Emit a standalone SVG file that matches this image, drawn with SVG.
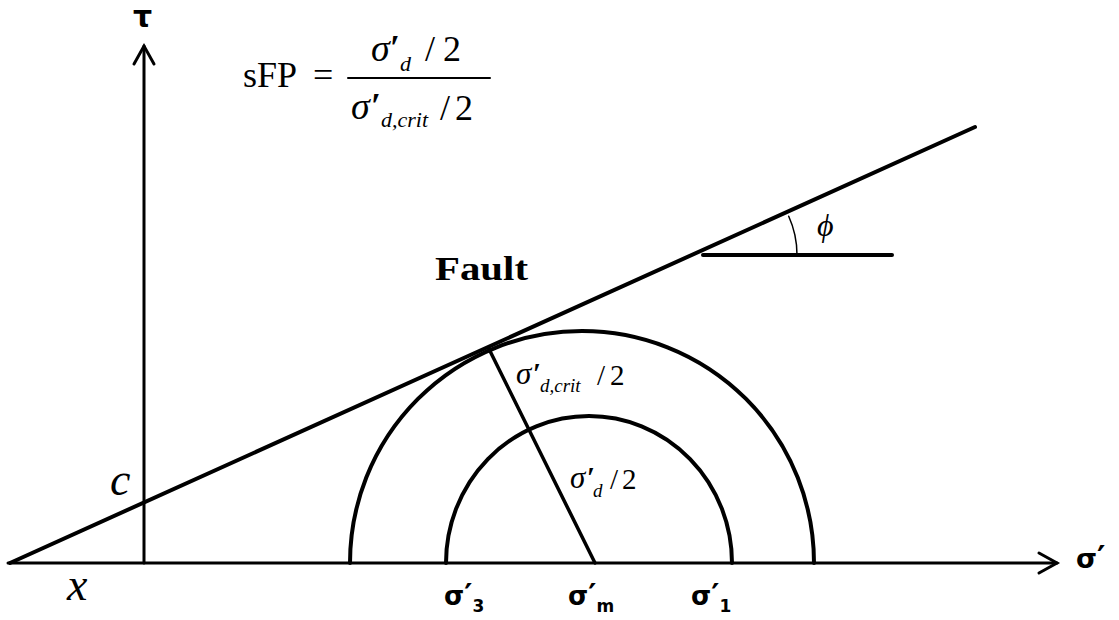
<svg xmlns="http://www.w3.org/2000/svg" width="1119" height="620" viewBox="0 0 1119 620">
<style>
.ln{stroke:#000;fill:none;stroke-linecap:round}
.ax{stroke-width:3}
.thick{stroke-width:4}
.math{font-family:"Liberation Serif","Times New Roman",serif;fill:#000}
.it{font-style:italic}
.lbl{font-family:"DejaVu Sans",Verdana,sans-serif;font-weight:bold;fill:#000}
</style>
<defs>
<marker id="chev" markerUnits="userSpaceOnUse" markerWidth="30" markerHeight="30" refX="0" refY="0" viewBox="-22 -15 30 30" orient="auto" overflow="visible">
<path d="M-18,-10 L0,0 L-18,10" fill="none" stroke="#000" stroke-width="3" stroke-linecap="round" stroke-linejoin="miter"/>
</marker>
</defs>
<rect width="1119" height="620" fill="#fff"/>
<g id="connectors">
<line id="sigma-axis" class="ln ax" x1="8" y1="563" x2="1057" y2="563" marker-end="url(#chev)"/>
<line id="tau-axis" class="ln ax" x1="144" y1="563" x2="144" y2="46" marker-end="url(#chev)"/>
<line id="fault-line" class="ln thick" x1="10" y1="563" x2="975" y2="127"/>
<line id="phi-ref" class="ln thick" x1="703" y1="255" x2="892" y2="255"/>
<path id="phi-arc" class="ln" stroke-width="1.5" d="M788.7,216.3 A94,94 0 0 1 797,255"/>
<line id="radius" class="ln" stroke-width="3.5" x1="595" y1="563" x2="489" y2="349"/>
</g>
<g id="outer-circle">
<path class="ln thick" d="M350,563 A232,232 0 0 1 814,563"/>
</g>
<g id="inner-circle">
<path class="ln thick" d="M446,563 A143,147 0 0 1 732,563"/>
</g>
<g id="formula">
<text class="math" x="243" y="87" font-size="36">sFP</text>
<text class="math" x="313" y="87" font-size="36">=</text>
<line class="ln" stroke-width="2" x1="348" y1="78" x2="490" y2="78"/>
<text class="math" font-size="36"><tspan class="it" x="371" y="61" font-size="38">σ</tspan><tspan x="390" y="60" font-weight="bold">′</tspan><tspan class="it" x="400" y="71" font-size="22">d</tspan><tspan x="425" y="61">/</tspan><tspan x="443" y="61">2</tspan></text>
<text class="math" font-size="36"><tspan class="it" x="351" y="119" font-size="38">σ</tspan><tspan x="371" y="118" font-weight="bold">′</tspan><tspan class="it" x="381" y="127" font-size="22">d,crit</tspan><tspan x="440" y="120">/</tspan><tspan x="455" y="120">2</tspan></text>
</g>
<g id="labels">
<text class="lbl" x="133" y="27" font-size="30">τ</text>
<text class="lbl" x="1076" y="568" font-size="27">σ<tspan font-size="32">′</tspan></text>
<text class="math" x="435" y="280" font-size="34" font-weight="bold" textLength="93" lengthAdjust="spacingAndGlyphs">Fault</text>
<text class="math it" x="110" y="495" font-size="46">c</text>
<text class="math it" x="67" y="600" font-size="46">x</text>
<text class="math it" x="817" y="236" font-size="32">ϕ</text>
<text class="math" font-size="29"><tspan class="it" x="516" y="384" font-size="31">σ</tspan><tspan x="533" y="383" font-weight="bold">′</tspan><tspan class="it" x="540" y="392" font-size="19">d,crit</tspan><tspan x="597" y="385">/</tspan><tspan x="610" y="385">2</tspan></text>
<text class="math" font-size="29"><tspan class="it" x="570" y="488" font-size="31">σ</tspan><tspan x="587" y="487" font-weight="bold">′</tspan><tspan class="it" x="593" y="497" font-size="19">d</tspan><tspan x="610" y="489">/</tspan><tspan x="622" y="489">2</tspan></text>
<text class="lbl" x="444" y="605" font-size="26">σ<tspan font-size="31">′</tspan><tspan dy="7" font-size="17">3</tspan></text>
<text class="lbl" x="568" y="605" font-size="26">σ<tspan font-size="31">′</tspan><tspan dy="7" font-size="17">m</tspan></text>
<text class="lbl" x="691" y="605" font-size="26">σ<tspan font-size="31">′</tspan><tspan dy="7" font-size="17">1</tspan></text>
</g>
</svg>
